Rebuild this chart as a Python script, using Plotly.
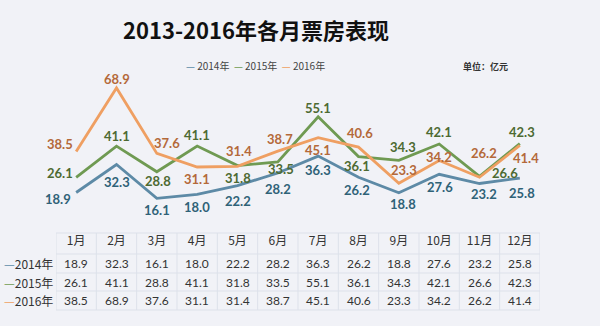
import plotly.graph_objects as go

months = ["1月", "2月", "3月", "4月", "5月", "6月", "7月", "8月", "9月", "10月", "11月", "12月"]
series_names = ["2014年", "2015年", "2016年"]
v2014 = [18.9, 32.3, 16.1, 18.0, 22.2, 28.2, 36.3, 26.2, 18.8, 27.6, 23.2, 25.8]
v2015 = [26.1, 41.1, 28.8, 41.1, 31.8, 33.5, 55.1, 36.1, 34.3, 42.1, 26.6, 42.3]
v2016 = [38.5, 68.9, 37.6, 31.1, 31.4, 38.7, 45.1, 40.6, 23.3, 34.2, 26.2, 41.4]
values = [v2014, v2015, v2016]

line_colors = ["#5d8aa6", "#6f9a52", "#ef9f62"]
label_colors = ["#2f6277", "#4d6a32", "#b4693a"]
# label offsets in pixels (xshift, yshift) per point
offsets = [
    [(-18, -7), (0, -18), (0, -12), (0, -13), (0, -15), (0, -16),
     (0, -14), (-2, -13), (4, -11), (1, -13), (4, -10), (2, -15)],
    [(-16, 4), (0, 10), (1, -9), (0, 11), (0, -12), (3, -7),
     (0, 9), (-2, -9), (4, 13), (0, 12), (25, 3), (2, 12)],
    [(-16, 8), (0, 9), (10, 10), (0, -12), (1, 15), (2, 12),
     (0, -12), (1, 14), (5, 13), (0, 4), (4, 24), (6, -13)],
]

fig = go.Figure()
ann = []
for name, vals, lc, tc, offs in zip(series_names, values, line_colors, label_colors, offsets):
    fig.add_trace(go.Scatter(
        x=months, y=vals, name=name, mode="lines",
        line=dict(color=lc, width=2.8),
        showlegend=False, hoverinfo="x+y",
    ))
    for m, v, (dx, dy) in zip(months, vals, offs):
        ann.append(dict(x=m, y=v, xref="x", yref="y", xshift=dx, yshift=dy, showarrow=False,
                        text=f"{v:.1f}", xanchor="center", yanchor="middle",
                        font=dict(family="Lato", size=13, color=tc, weight="bold")))

# table rows
row_shift = [-31, -50, -68]
for name, vals, lc, ys in zip(series_names, values, line_colors, row_shift):
    ann.append(dict(x=0, xref="paper", y=0, yref="paper", yshift=ys, xanchor="right", yanchor="middle",
                    xshift=-1, showarrow=False,
                    text=f"<span style='color:{lc}'>—</span>{name}",
                    font=dict(family="Noto Sans CJK SC", size=12, color="#333333")))
    for m, v in zip(months, vals):
        ann.append(dict(x=m, xref="x", y=0, yref="paper", yshift=ys, yanchor="middle", showarrow=False,
                        text=f"{v:.1f}", font=dict(family="Lato", size=12, color="#333333")))

# legend as text
leg = "  ".join(f"<span style='color:{c}'>—</span> {n}" for n, c in zip(series_names, line_colors))
ann.append(dict(x=(255 - 56) / 484, xref="paper", y=1, yref="paper", yshift=14, showarrow=False, text=leg,
                font=dict(family="Noto Sans CJK SC", size=10, color="#444444")))
ann.append(dict(x=1.0, xref="paper", y=1, yref="paper", xshift=-79, yshift=12, xanchor="left", showarrow=False,
                text="<b>单位：亿元</b>", font=dict(family="Noto Sans CJK SC", size=9, color="#333333")))

shapes = []
grid = "#dde1ea"
for yy in [-1, -22, -41, -59, -78]:
    shapes.append(dict(type="line", xref="paper", yref="paper", x0=0, x1=1, y0=yy / 162, y1=yy / 162,
                       line=dict(color=grid, width=1)))
for i in range(13):
    shapes.append(dict(type="line", xref="x", yref="paper", x0=i - 0.5, x1=i - 0.5, y0=-1 / 162, y1=-78 / 162,
                       line=dict(color=grid, width=1)))

fig.update_layout(
    width=600, height=326,
    margin=dict(l=56, r=60, t=70, b=94),
    paper_bgcolor="#f1f2f7", plot_bgcolor="#f1f2f7",
    title=dict(text="<b>2013-2016年各月票房表现</b>", x=256 / 600, xanchor="center", y=1 - 31 / 326,
               yanchor="middle", font=dict(family="Noto Sans CJK SC", size=22, color="#111111")),
    xaxis=dict(type="category", range=[-0.5, 11.5], showgrid=False, zeroline=False, showline=False,
               ticks="", tickfont=dict(family="Noto Sans CJK SC", size=12, color="#333333")),
    yaxis=dict(range=[0, 77.5], visible=False),
    annotations=ann, shapes=shapes,
)

fig.write_html("out.html")
